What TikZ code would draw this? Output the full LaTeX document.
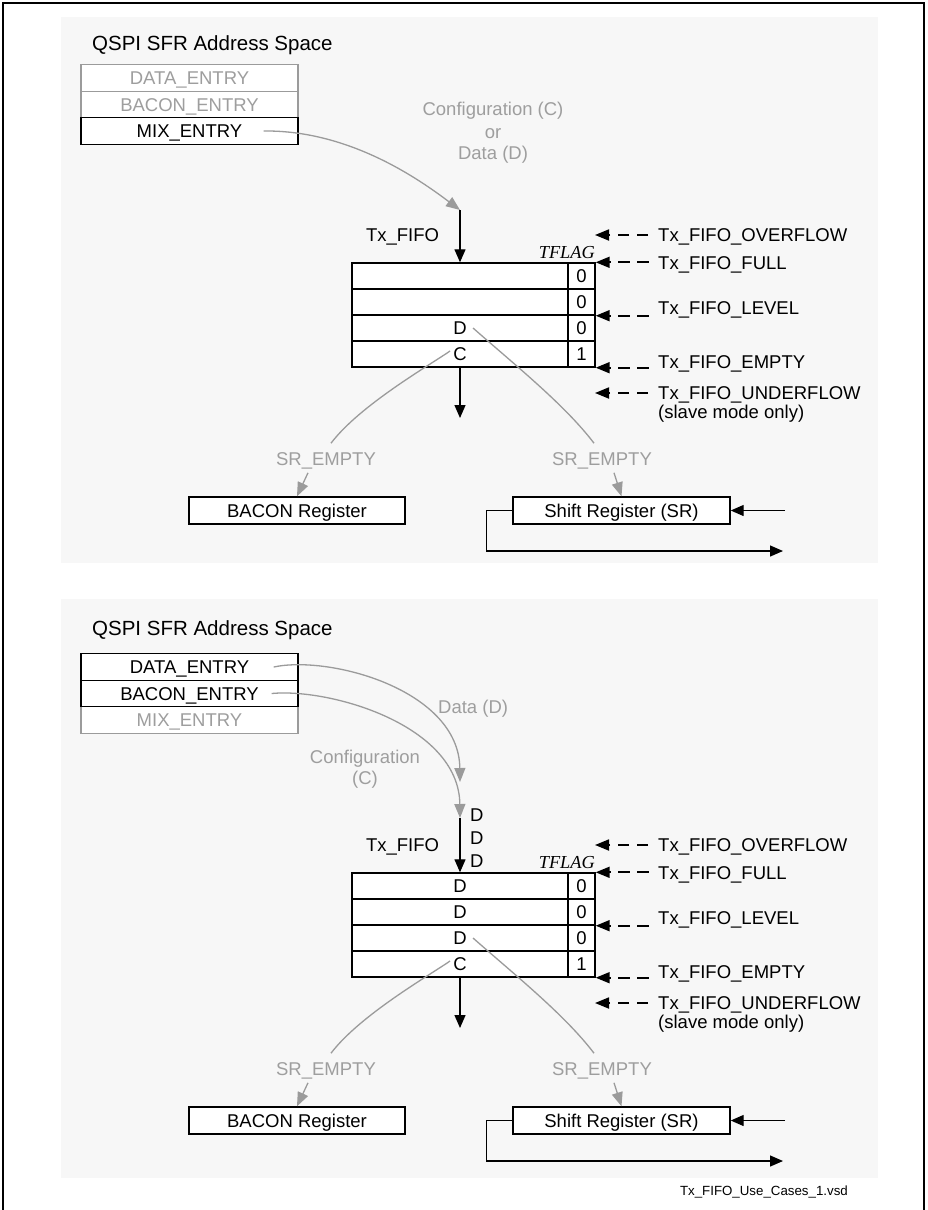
\documentclass[tikz,border=0pt]{standalone}
\usepackage{fontspec}
\setmainfont{Liberation Sans}
\newfontfamily\tflagfont{Liberation Serif}
\usetikzlibrary{arrows.meta,calc}
\definecolor{panelbg}{RGB}{247,247,247}
\definecolor{graytxt}{RGB}{158,158,158}
\definecolor{grayln}{RGB}{155,155,155}
\tikzset{
 lbl/.style={inner sep=0pt, font=\fontsize{18.5pt}{22pt}\selectfont, text height=13.2pt, text depth=0pt},
 glbl/.style={lbl, text=graytxt},
 ttl/.style={inner sep=0pt, font=\fontsize{20.5pt}{24pt}\selectfont, text height=14.7pt, text depth=0pt, anchor=west},
 tflag/.style={inner sep=0pt, font=\fontsize{18.3pt}{22pt}\tflagfont\itshape, text height=12.1pt, text depth=0pt},
 cell/.style={lbl, draw=black, line width=1.4pt, fill=white, minimum height=26pt},
 tcell/.style={cell, minimum width=217pt, minimum height=26.5pt},
 gtcell/.style={tcell, draw=grayln, text=graytxt},
 regbox/.style={cell, minimum height=27pt},
 blackarrow/.style={draw=black, line width=1.3pt, -{Triangle[length=13pt,width=11pt]}},
 grayarrow/.style={draw=grayln, line width=1.3pt, -{Triangle[length=14pt,width=11pt]}},
 grayline/.style={draw=grayln, line width=1.3pt},
 dasharrow/.style={draw=black, line width=1.8pt, dash pattern=on 11.5pt off 7.5pt, -{Triangle[length=14pt,width=11pt]}},
 fname/.style={inner sep=0pt, font=\fontsize{13.3pt}{16pt}\selectfont},
}
% #1 prefix, #2 y offset, #3-#6 row texts
\newcommand{\FifoBlock}[6]{%
\begin{scope}[shift={(0,#2)}]
 \node[lbl] (#1tx) at (402.5,235) {Tx\_FIFO};
 \node[cell, minimum width=216pt] (#1r1) at (460,276) {#3};
 \node[cell, minimum width=216pt] (#1r2) at (460,302) {#4};
 \node[cell, minimum width=216pt] (#1r3) at (460,328) {#5};
 \node[cell, minimum width=216pt] (#1r4) at (460,354) {#6};
 \node[cell, minimum width=27pt] (#1f1) at (581.5,276) {0};
 \node[cell, minimum width=27pt] (#1f2) at (581.5,302) {0};
 \node[cell, minimum width=27pt] (#1f3) at (581.5,328) {0};
 \node[cell, minimum width=27pt] (#1f4) at (581.5,354) {1};
 \node[tflag, anchor=east] (#1tf) at (595,252) {TFLAG};
 % status labels
 \node[lbl, anchor=west] (#1ov) at (658,235) {Tx\_FIFO\_OVERFLOW};
 \node[lbl, anchor=west] (#1fu) at (658,263) {Tx\_FIFO\_FULL};
 \node[lbl, anchor=west] (#1lv) at (658,308) {Tx\_FIFO\_LEVEL};
 \node[lbl, anchor=west] (#1em) at (658,362) {Tx\_FIFO\_EMPTY};
 \node[lbl, anchor=west] (#1un) at (658,393) {Tx\_FIFO\_UNDERFLOW};
 \node[lbl, anchor=west] (#1sm) at (658,412) {(slave mode only)};
 \coordinate (#1ovtip) at (595,235);
 \coordinate (#1untip) at (595,393);
 \draw[dasharrow] ([xshift=53pt]#1ovtip) -- (#1ovtip);
 \draw[dasharrow] ([xshift=53pt]#1f1.north east) -- (#1f1.north east);
 \draw[dasharrow] ([xshift=53pt]#1f2.south east) -- (#1f2.south east);
 \draw[dasharrow] ([xshift=53pt]#1f4.south east) -- (#1f4.south east);
 \draw[dasharrow] ([xshift=53pt]#1untip) -- (#1untip);
 % output
 \coordinate (#1fifoout) at (460,418);
 \draw[blackarrow] (#1r4.south) -- (#1fifoout);
 % registers
 \node[glbl] (#1se1) at (326,459) {SR\_EMPTY};
 \node[glbl] (#1se2) at (602,459) {SR\_EMPTY};
 \node[regbox, minimum width=216pt] (#1bacon) at (297,510.5) {BACON Register};
 \node[regbox, minimum width=217pt] (#1sr) at (621.5,510.5) {Shift Register (SR)};
 \draw[grayline] ($(#1r4.center)+(-10,-3)$) .. controls (430,365) and (360,405) .. ($(#1se1.north)+(5,-9)$);
 \draw[grayline] ($(#1r3.center)+(13,0)$) .. controls (515,365) and (565,405) .. ($(#1se2.north)+(-8,-9)$);
 \draw[grayarrow] ($(#1se1.south)+(-18,7)$) -- (#1bacon.north);
 \draw[grayarrow] ($(#1se2.south)+(12,7)$) -- (#1sr.north);
 \coordinate (#1srloop) at (783,551);
 \coordinate (#1srfeed) at (785,510.5);
 \draw[blackarrow] (#1sr.west) -- ++(-26,0) |- (#1srloop);
 \draw[blackarrow] (#1srfeed) -- (#1sr.east);
\end{scope}}
\begin{document}
\begin{tikzpicture}[x=1pt,y=-1pt]
\useasboundingbox (0,0) rectangle (927,1210);
% outer frame
\draw[line width=1.4pt] (3,1212) -- (3,3) -- (924,3) -- (924,1212);
% panels
\fill[panelbg] (61,17) rectangle (878,563);
\fill[panelbg] (61,599) rectangle (878,1178);

% ---------- top panel ----------
\node[ttl] (ta) at (92,43) {QSPI SFR Address Space};
\node[gtcell] (ta1) at (189.5,78) {DATA\_ENTRY};
\node[gtcell] (ta2) at (189.5,104.5) {BACON\_ENTRY};
\node[tcell] (ta3) at (189.5,131) {MIX\_ENTRY};
\node[glbl] (tl1) at (493,109) {Configuration (C)};
\node[glbl] (tl2) at (493,132) {or};
\node[glbl] (tl3) at (493,153) {Data (D)};
\coordinate (topfeed) at (460,210);
\draw[grayarrow] ([xshift=-35pt]ta3.east) .. controls (350,130) and (420,180) .. (topfeed);
\FifoBlock{a}{0}{}{}{D}{C}
\draw[blackarrow] (topfeed) -- (ar1.north);

% ---------- bottom panel ----------
\node[ttl] (tb) at (92,628) {QSPI SFR Address Space};
\node[gtcell] (tb3) at (189.5,720) {MIX\_ENTRY};
\node[tcell] (tb1) at (189.5,667) {DATA\_ENTRY};
\node[tcell] (tb2) at (189.5,693.5) {BACON\_ENTRY};
\node[glbl, anchor=west] (bl1) at (438,707) {Data (D)};
\node[glbl] (bl2) at (365,757) {Configuration};
\node[glbl] (bl3) at (365,778) {(C)};
\coordinate (botdata) at (460,782);
\coordinate (botfeed) at (460,818);
\draw[grayarrow] ([xshift=-25pt]tb1.east) .. controls (330,655) and (459,690) .. (botdata);
\draw[grayarrow] ([xshift=-27pt]tb2.east) .. controls (330,688) and (459,725) .. (botfeed);
\node[lbl, anchor=west] (bd1) at (470,815) {D};
\node[lbl, anchor=west] (bd2) at (470,838) {D};
\node[lbl, anchor=west] (bd3) at (470,861) {D};
\FifoBlock{b}{610}{D}{D}{D}{C}
\draw[blackarrow] (botfeed) -- (br1.north);

\node[fname, anchor=east] (fn) at (848,1192) {Tx\_FIFO\_Use\_Cases\_1.vsd};
\end{tikzpicture}
\end{document}
